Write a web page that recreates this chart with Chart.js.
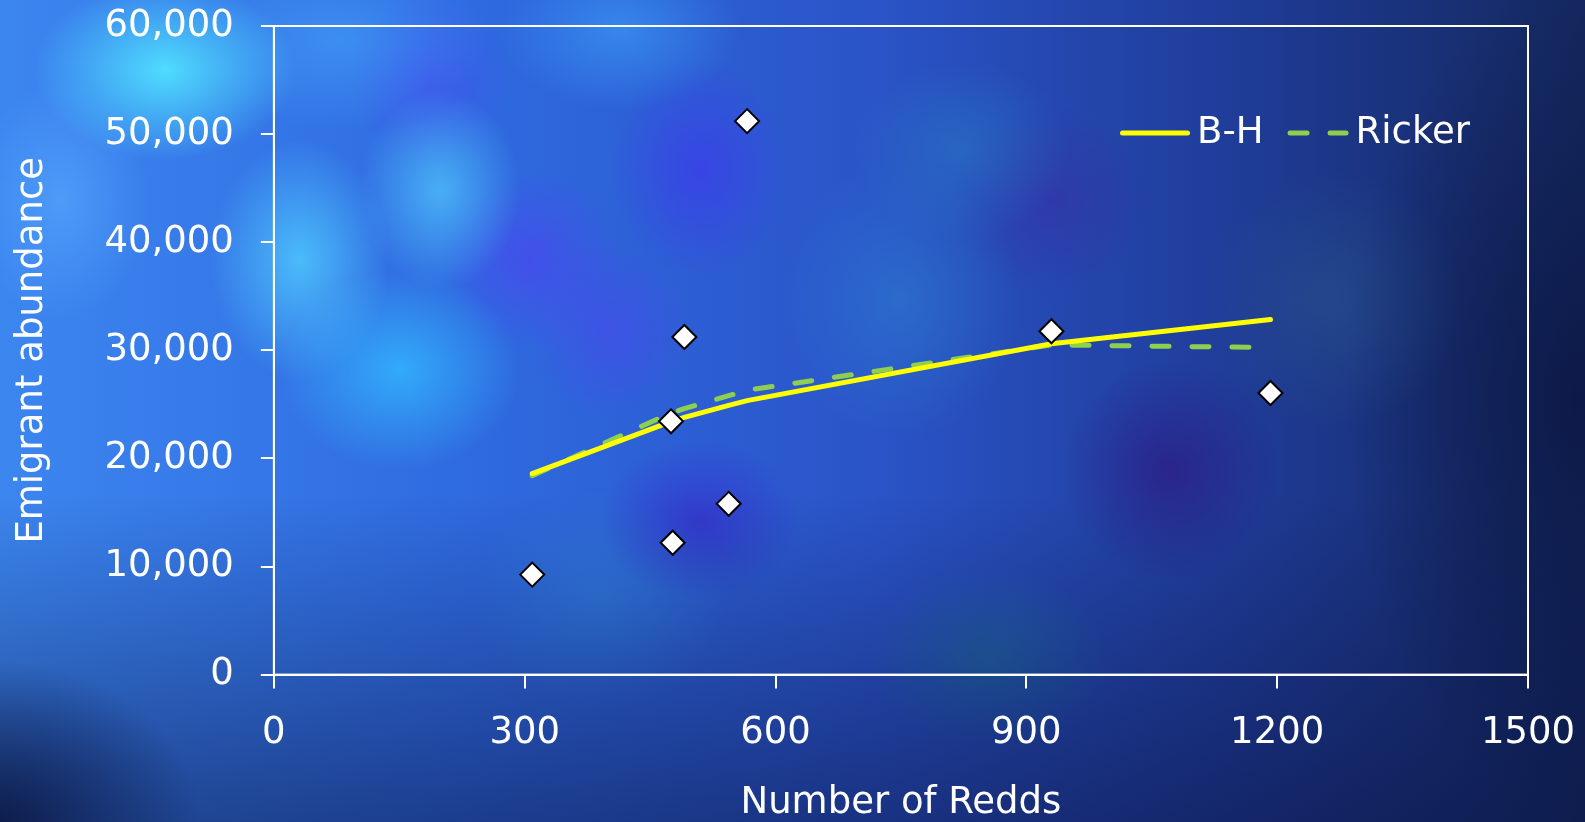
<!DOCTYPE html>
<html>
<head>
<meta charset="utf-8">
<title>Emigrant abundance vs Number of Redds</title>
<script src="https://cdn.jsdelivr.net/npm/chart.js@4.4.1/dist/chart.umd.min.js"></script>
<style>
  html, body { margin: 0; padding: 0; overflow: hidden; }
  body {
    width: 1585px; height: 822px;
    background:
      linear-gradient(to bottom, rgba(8,16,60,0) 60%, rgba(8,16,60,0.5) 100%),
      radial-gradient(ellipse 200px 160px at 0px 822px, rgba(10,18,55,0.8), rgba(10,18,55,0) 100%),
      radial-gradient(ellipse 130px 90px at 165px 70px, rgba(80,225,255,0.95), rgba(80,225,255,0) 100%),
      radial-gradient(ellipse 90px 120px at 300px 260px, rgba(80,205,255,0.8), rgba(80,205,255,0) 100%),
      radial-gradient(ellipse 80px 100px at 440px 190px, rgba(85,210,255,0.65), rgba(85,210,255,0) 100%),
      radial-gradient(ellipse 120px 100px at 400px 370px, rgba(50,185,255,0.8), rgba(50,185,255,0) 100%),
      radial-gradient(ellipse 90px 120px at 60px 200px, rgba(90,170,255,0.6), rgba(90,170,255,0) 100%),
      radial-gradient(ellipse 150px 90px at 340px 40px, rgba(70,170,255,0.5), rgba(70,170,255,0) 100%),
      radial-gradient(ellipse 120px 80px at 620px 30px, rgba(60,160,250,0.6), rgba(60,160,250,0) 100%),
      radial-gradient(ellipse 80px 90px at 430px 80px, rgba(70,70,240,0.55), rgba(70,70,240,0) 100%),
      radial-gradient(ellipse 90px 110px at 700px 170px, rgba(60,60,235,0.75), rgba(60,60,235,0) 100%),
      radial-gradient(ellipse 90px 90px at 530px 260px, rgba(75,70,240,0.7), rgba(75,70,240,0) 100%),
      radial-gradient(ellipse 80px 90px at 610px 330px, rgba(75,70,240,0.55), rgba(75,70,240,0) 100%),
      radial-gradient(ellipse 100px 80px at 700px 520px, rgba(55,40,205,0.65), rgba(55,40,205,0) 100%),
      radial-gradient(ellipse 130px 110px at 600px 600px, rgba(50,140,230,0.5), rgba(50,140,230,0) 100%),
      radial-gradient(ellipse 120px 140px at 900px 300px, rgba(45,130,210,0.5), rgba(45,130,210,0) 100%),
      radial-gradient(ellipse 110px 90px at 960px 150px, rgba(40,130,200,0.45), rgba(40,130,200,0) 100%),
      radial-gradient(ellipse 120px 90px at 990px 660px, rgba(30,120,150,0.5), rgba(30,120,150,0) 100%),
      radial-gradient(ellipse 110px 110px at 1170px 470px, rgba(45,25,130,0.7), rgba(45,25,130,0) 100%),
      radial-gradient(ellipse 100px 100px at 1050px 200px, rgba(60,40,160,0.45), rgba(60,40,160,0) 100%),
      radial-gradient(ellipse 130px 130px at 1330px 300px, rgba(45,90,140,0.45), rgba(45,90,140,0) 100%),
      radial-gradient(ellipse 240px 420px at 1585px 400px, rgba(12,24,70,0.9), rgba(12,24,70,0) 100%),
      linear-gradient(to right, #3c86f0 0%, #2f6ae0 30%, #2a54c8 55%, #1f3c98 78%, #14285e 100%);
  }
  #wrap { position: absolute; left: 0; top: 0; width: 1585px; height: 822px; }
</style>
</head>
<body>
<div id="wrap"><canvas id="myChart"></canvas></div>
<script>
// observed redds / emigrants
const obsRedds = [309, 475, 477, 491, 544, 566, 930, 1192];
const obsEmigrants = [9250, 23430, 12200, 31230, 15800, 51200, 31760, 26050];

// fitted curves at each observed redd count (sorted)
const fitRedds = [309, 475, 477, 491, 544, 566, 930, 1192];
const bhFit = [18600, 23400, 23450, 23800, 24900, 25350, 30600, 32850];
const rickerFit = [18400, 24200, 24250, 24600, 25800, 26300, 30500, 30250];

const xTicks = [0, 300, 600, 900, 1200, 1500];
const yTicks = [0, 10000, 20000, 30000, 40000, 50000, 60000];

function pairs(xs, ys) {
    return xs.map((x, i) => ({ x: x, y: ys[i] }));
}

Chart.defaults.font.family = '"DejaVu Sans", sans-serif';
Chart.defaults.font.size = 37;
Chart.defaults.color = '#ffffff';

// white box round the plot area
const frame = {
    id: 'frame',
    beforeDatasetsDraw(chart) {
        const a = chart.chartArea;
        const ctx = chart.ctx;
        ctx.save();
        ctx.strokeStyle = '#ffffff';
        ctx.lineWidth = 2;
        ctx.strokeRect(a.left, a.top, a.right - a.left, a.bottom - a.top);
        ctx.restore();
    }
};

// legend in one row, inside the plot at top right
const insideLegend = {
    id: 'insideLegend',
    afterDatasetsDraw(chart) {
        const a = chart.chartArea;
        const ctx = chart.ctx;
        const lens = [70, 61];
        let x = a.right - 408;
        const y = a.top + 107;
        ctx.save();
        ctx.font = '37px "DejaVu Sans", sans-serif';
        ctx.textBaseline = 'middle';
        ctx.textAlign = 'left';
        let k = 0;
        chart.data.datasets.forEach((ds) => {
            if (!ds.showLine) return;
            const len = lens[k++] || 64;
            ctx.strokeStyle = ds.borderColor;
            ctx.lineWidth = ds.borderWidth;
            ctx.lineCap = 'round';
            ctx.setLineDash(ds.borderDash || []);
            ctx.beginPath();
            ctx.moveTo(x + 2.5, y);
            ctx.lineTo(x + len - 2.5, y);
            ctx.stroke();
            ctx.setLineDash([]);
            ctx.fillStyle = '#ffffff';
            const tx = x + len + 7;
            ctx.fillText(ds.label, tx, y);
            x = tx + ctx.measureText(ds.label).width + 24;
        });
        ctx.restore();
    }
};

var myChart = new Chart('myChart', {
    type: 'scatter',
    data: {
        datasets: [
            {
                label: 'Observed',
                data: pairs(obsRedds, obsEmigrants),
                pointStyle: 'rectRot',
                pointRadius: 12,
                pointHoverRadius: 12,
                backgroundColor: '#ffffff',
                borderColor: '#000000',
                borderWidth: 2
            },
            {
                label: 'B-H',
                data: pairs(fitRedds, bhFit),
                showLine: true,
                borderColor: '#ffff00',
                backgroundColor: '#ffff00',
                borderWidth: 5,
                borderCapStyle: 'round',
                pointRadius: 0,
                pointHoverRadius: 0
            },
            {
                label: 'Ricker',
                data: pairs(fitRedds, rickerFit),
                showLine: true,
                borderColor: '#8fcf4f',
                backgroundColor: '#8fcf4f',
                borderWidth: 5,
                borderDash: [17, 23],
                borderCapStyle: 'round',
                pointRadius: 0,
                pointHoverRadius: 0
            }
        ]
    },
    options: {
        responsive: true,
        maintainAspectRatio: false,
        animation: false,
        layout: { padding: { left: 10, right: 57, top: 26, bottom: 0 } },
        plugins: {
            tooltip: { enabled: false },
            legend: { display: false }
        },
        scales: {
            x: {
                type: 'linear',
                min: 0,
                max: 1500,
                afterBuildTicks: (axis) => { axis.ticks = xTicks.map(v => ({ value: v })); },
                afterFit: (axis) => { axis.paddingLeft = 0; axis.paddingRight = 0; },
                ticks: {
                    padding: 23,
                    color: '#ffffff',
                    callback: (v) => String(v)
                },
                grid: { drawOnChartArea: false, drawTicks: true, tickLength: 14, color: '#ffffff', lineWidth: 2 },
                border: { color: '#ffffff', width: 2 },
                title: {
                    display: true, text: 'Number of Redds', color: '#ffffff',
                    font: { size: 37, lineHeight: 1.0 },
                    padding: { top: 6, bottom: 0 }
                }
            },
            y: {
                type: 'linear',
                min: 0,
                max: 60000,
                afterBuildTicks: (axis) => { axis.ticks = yTicks.map(v => ({ value: v })); },
                afterFit: (axis) => { axis.paddingTop = 0; axis.paddingBottom = 0; },
                ticks: {
                    padding: 27,
                    color: '#ffffff',
                    callback: (v) => v.toLocaleString('en-US')
                },
                grid: { drawOnChartArea: false, drawTicks: true, tickLength: 13, color: '#ffffff', lineWidth: 2 },
                border: { color: '#ffffff', width: 2 },
                title: { display: true, text: 'Emigrant abundance', color: '#ffffff', padding: { top: 0, bottom: 23 } }
            }
        }
    },
    plugins: [frame, insideLegend]
});
</script>
</body>
</html>
